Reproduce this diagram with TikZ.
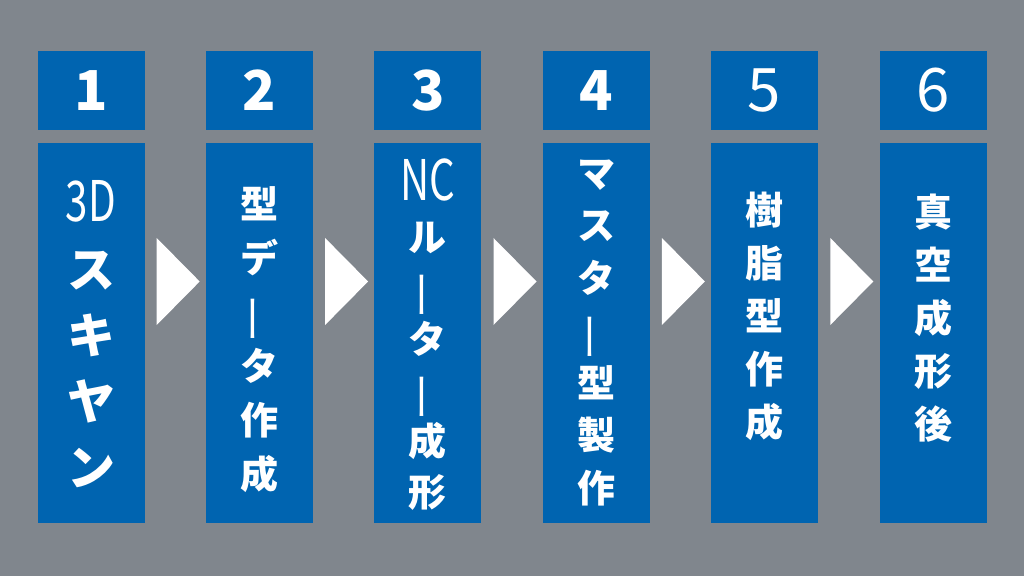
\documentclass[tikz,border=0pt]{standalone}
\usepackage{fontspec}
\usepackage{tikz}
\setmainfont{Noto Sans CJK JP}
\definecolor{flowback}{RGB}{128,134,141}
\definecolor{flowblue}{RGB}{0,100,176}

\newcommand{\narrowtext}[1]{{\mdseries\fontsize{56}{56}\selectfont\scalebox{0.72}[1]{#1}}}
\newcommand{\longbar}{{\mdseries\rotatebox[origin=c]{90}{\scalebox{1.3}[1]{ー}}}}

\begin{document}
\begin{tikzpicture}[x=1pt,y=1pt,
  numbox/.style={fill=flowblue,minimum width=107pt,minimum height=79pt,inner sep=0pt,text=white},
  stepbox/.style={fill=flowblue,minimum width=107pt,minimum height=380pt,inner sep=0pt},
  steptext/.style={text=white,align=center,inner sep=0pt}]
\fill[flowback] (0,0) rectangle (1024,576);
\useasboundingbox (0,0) rectangle (1024,576);

\foreach \i in {1,...,6}
{
\node [stepbox] (col\i) at ({91+168.4*(\i-1)},243) {};
}

\node [numbox,font=\bfseries\fontsize{55}{55}\selectfont] (num1) at (91,485.5) {1};
\node [numbox,font=\bfseries\fontsize{55}{55}\selectfont] (num2) at (259.4,485.5) {2};
\node [numbox,font=\bfseries\fontsize{55}{55}\selectfont] (num3) at (427.8,485.5) {3};
\node [numbox,font=\bfseries\fontsize{55}{55}\selectfont] (num4) at (596.2,485.5) {4};
\node [numbox,font=\fontsize{60}{60}\selectfont] (num5) at (764.6,485.5) {5};
\node [numbox,font=\fontsize{60}{60}\selectfont] (num6) at (933,485.5) {6};

\node [steptext,font=\bfseries\fontsize{48}{66}\selectfont] (txt1) at ([yshift=-191]col1.north)
{\narrowtext{3D}\\ス\\キ\\ヤ\\ン};
\node [steptext,font=\bfseries\fontsize{38}{54}\selectfont] (txt2) at ([yshift=-197]col2.north)
{型\\デ\\\longbar\\タ\\作\\成};
\node [steptext,font=\bfseries\fontsize{38}{51}\selectfont] (txt3) at ([yshift=-192]col3.north)
{\narrowtext{NC}\\ル\\\longbar\\タ\\\longbar\\成\\形};
\node [steptext,font=\bfseries\fontsize{38}{52.5}\selectfont] (txt4) at ([yshift=-190]col4.north)
{マ\\ス\\タ\\\longbar\\型\\製\\作};
\node [steptext,font=\bfseries\fontsize{38}{53}\selectfont] (txt5) at ([yshift=-174]col5.north)
{樹\\脂\\型\\作\\成};
\node [steptext,font=\bfseries\fontsize{38}{53}\selectfont] (txt6) at ([yshift=-175]col6.north)
{真\\空\\成\\形\\後};

\foreach \i/\j in {1/2,2/3,3/4,4/5,5/6}
{
\fill [white] ([shift={(12,95)}]col\i.east) -- ([shift={(-6,51.5)}]col\j.west) -- ([shift={(12,8)}]col\i.east) -- cycle;
}
\end{tikzpicture}
\end{document}
